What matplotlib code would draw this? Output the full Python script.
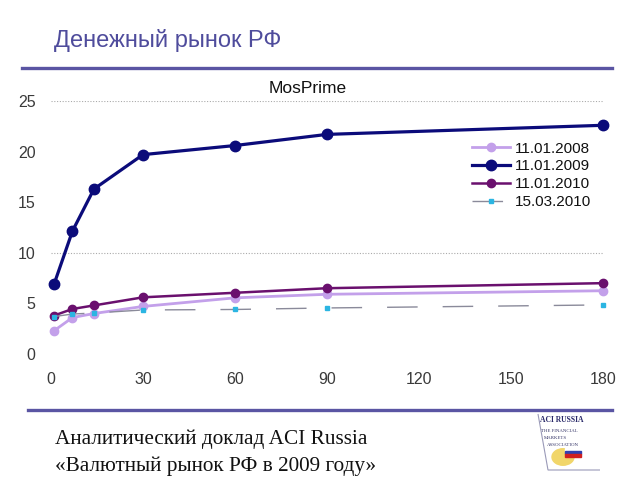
import matplotlib.pyplot as plt
from matplotlib.patches import Circle, Rectangle, Polygon

# MosPrime fixings by term (days)
terms = [1, 7, 14, 30, 60, 90, 180]
rates_2008 = [2.3, 3.6, 4.0, 4.7, 5.55, 5.9, 6.25]
rates_2009 = [6.9, 12.15, 16.3, 19.7, 20.6, 21.7, 22.6]
rates_2010 = [3.8, 4.45, 4.8, 5.6, 6.05, 6.5, 7.0]
rates_2010_03 = [3.7, 3.95, 4.05, 4.35, 4.4, 4.55, 4.85]
series_labels = ["11.01.2008", "11.01.2009", "11.01.2010", "15.03.2010"]

x_ticks = [0, 30, 60, 90, 120, 150, 180]
y_ticks = [0, 5, 10, 15, 20, 25]
grid_levels = [10, 25]

page_title = "Денежный рынок РФ"
chart_title = "MosPrime"
footer_lines = ["Аналитический доклад ACI Russia", "«Валютный рынок РФ в 2009 году»"]

accent = "#5a55a3"

fig = plt.figure(figsize=(6.4, 4.8), dpi=100)
fig.patch.set_facecolor("white")

# page header / footer
fig.text(54 / 640, 1 - 40 / 480, page_title, fontsize=17, color="#4f4c9c",
         family="Liberation Sans", va="center", ha="left")
fig.add_artist(plt.Line2D([22 / 640, 612 / 640], [1 - 68 / 480] * 2, color=accent, lw=2.4))
fig.add_artist(plt.Line2D([28 / 640, 612 / 640], [1 - 410 / 480] * 2, color=accent, lw=2.4))
fig.text(55 / 640, 1 - 439 / 480, footer_lines[0], fontsize=15.3, family="Liberation Serif",
         color="#111111", va="center")
fig.text(55 / 640, 1 - 466 / 480, footer_lines[1], fontsize=15.3, family="Liberation Serif",
         color="#111111", va="center")

# logo (rough)
fig.text(540 / 640, 1 - 420 / 480, "ACI RUSSIA", fontsize=5.5, weight="bold",
         family="Liberation Serif", color="#2a2a6a", va="center")
for i, t in enumerate(["THE FINANCIAL", "MARKETS", "ASSOCIATION"]):
    fig.text((541 + 3 * i) / 640, 1 - (431 + 7 * i) / 480, t, fontsize=3.5,
             family="Liberation Serif", color="#333366", va="center")
fig.add_artist(Polygon([[538 / 640, 1 - 414 / 480], [548 / 640, 1 - 470 / 480],
                        [600 / 640, 1 - 470 / 480]], closed=False, fill=False,
                       edgecolor="#9a9ab8", lw=0.8, transform=fig.transFigure))
fig.add_artist(Circle((563 / 640, 1 - 457 / 480), 11 / 640, color="#f1d66a",
                      transform=fig.transFigure))
for j, c in enumerate(["#ffffff", "#3040b0", "#d02020"]):
    fig.add_artist(Rectangle((565 / 640, 1 - (451 + 3 * j) / 480), 16 / 640, 3 / 480,
                             color=c, transform=fig.transFigure))

# chart
ax = fig.add_axes([51 / 640, 1 - 354 / 480, 552 / 640, 253 / 480])
for lvl in grid_levels:
    ax.axhline(lvl, color="#aaaaaa", lw=0.8, ls=(0, (1, 1.5)), zorder=0)

ax.plot(terms, rates_2008, color="#c3a0ea", lw=2, marker="o", ms=6, clip_on=False,
        label=series_labels[0])
ax.plot(terms, rates_2009, color="#0b0b7a", lw=2.3, marker="o", ms=7.5, clip_on=False,
        label=series_labels[1])
ax.plot(terms, rates_2010, color="#6a106e", lw=1.8, marker="o", ms=6, clip_on=False,
        label=series_labels[2])
ax.plot(terms, rates_2010_03, color="#8a8a9a", lw=1, ls=(0, (22, 18)), marker="s", ms=3.5,
        mfc="#2bb5e2", mec="#2bb5e2", clip_on=False, label=series_labels[3])

ax.set_xlim(0, 180)
ax.set_ylim(0, 25)
ax.set_xticks(x_ticks)
ax.set_yticks(y_ticks)
ax.tick_params(length=0, labelsize=11.5, labelcolor="#3a3a3a", pad=13)
ax.tick_params(axis="y", pad=11)
for s in ax.spines.values():
    s.set_visible(False)
for lbl in ax.get_xticklabels() + ax.get_yticklabels():
    lbl.set_family("Liberation Sans")

ax.set_title(chart_title, fontsize=12.5, color="#111111", pad=6, family="Liberation Sans",
             x=0.465)

leg = ax.legend(loc="upper left", bbox_to_anchor=(0.751, 0.864), frameon=False,
                prop={"family": "Liberation Sans", "size": 11}, handlelength=2.5,
                labelspacing=0.25, handletextpad=0.3, borderaxespad=0)
for t in leg.get_texts():
    t.set_color("#111111")

fig.savefig("out.png", dpi=100)
